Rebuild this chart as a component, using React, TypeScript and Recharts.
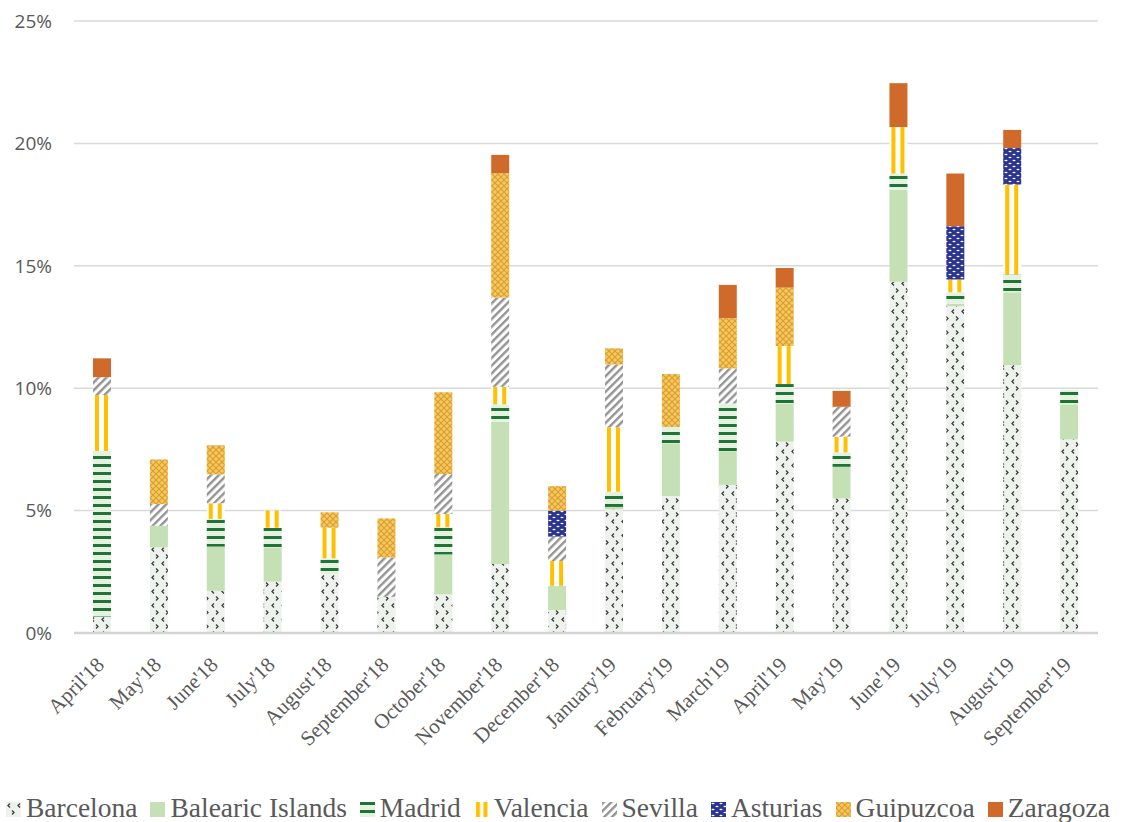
import { BarChart, Bar, XAxis, YAxis, CartesianGrid, Legend } from "recharts";

const months = [
  "April'18", "May'18", "June'18", "July'18", "August'18", "September'18",
  "October'18", "November'18", "December'18", "January'19", "February'19", "March'19",
  "April'19", "May'19", "June'19", "July'19", "August'19", "September'19"
];

const barcelona = [0.67, 3.5, 1.72, 2.1, 2.4, 1.48, 1.58, 2.82, 0.94, 5.05, 5.6, 6.05, 7.82, 5.5, 14.35, 13.35, 10.95, 7.91];
const balearic = [0, 0.88, 1.81, 1.4, 0, 0, 1.63, 5.81, 0.99, 0.1, 2.15, 1.38, 1.56, 1.29, 3.75, 0.1, 2.97, 1.43];
const madrid = [6.76, 0, 1.13, 0.8, 0.65, 0, 1.11, 0.71, 0, 0.62, 0.68, 1.95, 0.79, 0.59, 0.67, 0.47, 0.72, 0.59];
const valencia = [2.29, 0, 0.64, 0.7, 1.25, 0, 0.54, 0.72, 1.01, 2.63, 0, 0, 1.55, 0.64, 1.9, 0.52, 3.68, 0];
const sevilla = [0.73, 0.89, 1.18, 0, 0, 1.61, 1.64, 3.64, 1.0, 2.57, 0, 1.43, 0, 1.22, 0, 0, 0, 0];
const asturias = [0, 0, 0, 0, 0, 0, 0, 0, 1.06, 0, 0, 0, 0, 0, 0, 2.18, 1.49, 0];
const guipuzcoa = [0, 1.82, 1.19, 0, 0.63, 1.59, 3.33, 5.08, 1.0, 0.66, 2.15, 2.05, 2.39, 0, 0, 0, 0, 0];
const zaragoza = [0.77, 0, 0, 0, 0, 0, 0, 0.75, 0, 0, 0, 1.36, 0.8, 0.65, 1.79, 2.15, 0.74, 0];

const yTicks = [0, 5, 10, 15, 20, 25];

const series = [
  { key: "Barcelona", values: barcelona, fill: "url(#pBarcelona)" },
  { key: "Balearic Islands", values: balearic, fill: "#c5e0b4" },
  { key: "Madrid", values: madrid, fill: "url(#pMadrid)" },
  { key: "Valencia", values: valencia, fill: "url(#pValencia)" },
  { key: "Sevilla", values: sevilla, fill: "url(#pSevilla)" },
  { key: "Asturias", values: asturias, fill: "url(#pAsturias)" },
  { key: "Guipuzcoa", values: guipuzcoa, fill: "url(#pGuipuzcoa)" },
  { key: "Zaragoza", values: zaragoza, fill: "#cf6a2a" }
];

const data = months.map((month, i) => {
  const row: Record<string, string | number> = { month };
  series.forEach((s) => {
    row[s.key] = s.values[i];
  });
  return row;
});

const MonthTick = (props: any) => {
  const { x, y, payload } = props;
  const tx = x + 3;
  const ty = y + 33;
  return (
    <text
      x={tx}
      y={ty}
      textAnchor="end"
      transform={`rotate(-45 ${tx} ${ty})`}
      fontFamily="'Liberation Serif', serif"
      fontSize={21}
      fill="#595959"
    >
      {payload.value}
    </text>
  );
};

const LegendContent = () => (
  <div
    style={{
      display: "flex",
      flexWrap: "nowrap",
      paddingLeft: 6,
      fontFamily: "'Liberation Serif', serif",
      fontSize: 27.5,
      lineHeight: "27.5px",
      color: "#595959",
      whiteSpace: "nowrap"
    }}
  >
    {series.map((s) => (
      <span key={s.key} style={{ display: "inline-flex", alignItems: "center", marginRight: 13 }}>
        <svg width={15} height={15} style={{ marginRight: 5, marginTop: 3 }}>
          <rect width={15} height={15} fill={s.fill} />
        </svg>
        <span>{s.key}</span>
      </span>
    ))}
  </div>
);

function App(): JSX.Element {
  return (
    <div style={{ position: "absolute", left: 0, top: 0 }}>
      <BarChart
        width={1126}
        height={822}
        data={data}
        margin={{ top: 21, right: 28, left: 0, bottom: 39 }}
        barSize={18}
      >
        <defs>
          <pattern id="pBarcelona" width="10" height="14" patternUnits="userSpaceOnUse">
            <rect width="10" height="14" fill="#edf2ed" />
            <path d="M4 1.5 L2 3.5 L4 5.5" stroke="#3c3c3c" strokeWidth="1.3" fill="none" />
            <path d="M6 8.5 L8 10.5 L6 12.5" stroke="#3c3c3c" strokeWidth="1.3" fill="none" />
          </pattern>
          <pattern id="pMadrid" width="8" height="8" patternUnits="userSpaceOnUse">
            <rect width="8" height="8" fill="#e6f1df" />
            <rect width="8" height="3" fill="#1d7436" />
          </pattern>
          <pattern id="pValencia" width="0.5" height="1" patternUnits="objectBoundingBox">
            <rect width="20" height="2000" fill="#ffffff" />
            <rect x="2" width="4" height="2000" fill="#ffc000" />
          </pattern>
          <pattern id="pSevilla" width="5.5" height="5.5" patternUnits="userSpaceOnUse" patternTransform="rotate(45)">
            <rect width="5.5" height="5.5" fill="#ffffff" />
            <rect width="2.4" height="5.5" fill="#939393" />
          </pattern>
          <pattern id="pAsturias" width="8" height="6" patternUnits="userSpaceOnUse">
            <rect width="8" height="6" fill="#2b3590" />
            <ellipse cx="2" cy="1.5" rx="1.6" ry="0.8" fill="#ffffff" />
            <ellipse cx="6" cy="4.5" rx="1.6" ry="0.8" fill="#ffffff" />
          </pattern>
          <pattern id="pGuipuzcoa" width="6" height="6" patternUnits="userSpaceOnUse">
            <rect width="6" height="6" fill="#ecbd4c" />
            <path d="M0 0 L6 6 M6 0 L0 6" stroke="#e09a32" strokeWidth="0.9" />
            <circle cx="3" cy="0" r="0.8" fill="#f8dc7c" />
            <circle cx="0" cy="3" r="0.8" fill="#f8dc7c" />
            <circle cx="6" cy="3" r="0.8" fill="#f8dc7c" />
            <circle cx="3" cy="6" r="0.8" fill="#f8dc7c" />
          </pattern>
        </defs>
        <CartesianGrid vertical={false} stroke="#d9d9d9" strokeWidth={1.5} />
        <XAxis
          dataKey="month"
          interval={0}
          height={150}
          tickLine={false}
          tickSize={0}
          tickMargin={0}
          axisLine={{ stroke: "#d4d4d4", strokeWidth: 2.5 }}
          tick={<MonthTick />}
        />
        <YAxis
          width={74}
          domain={[0, 25]}
          ticks={yTicks}
          tickFormatter={(v: number) => `${v}%`}
          axisLine={false}
          tickLine={false}
          tickSize={0}
          tickMargin={22}
          tick={{ fill: "#595959", fontSize: 19, fontFamily: "'Open Sans', sans-serif" }}
        />
        <Legend
          layout="horizontal"
          verticalAlign="middle"
          align="center"
          wrapperStyle={{ top: 794, left: 0, width: 1126, height: 30 }}
          content={() => <LegendContent />}
        />
        {series.map((s) => (
          <Bar key={s.key} dataKey={s.key} stackId="a" fill={s.fill} isAnimationActive={false} />
        ))}
      </BarChart>
    </div>
  );
}

export default App;
